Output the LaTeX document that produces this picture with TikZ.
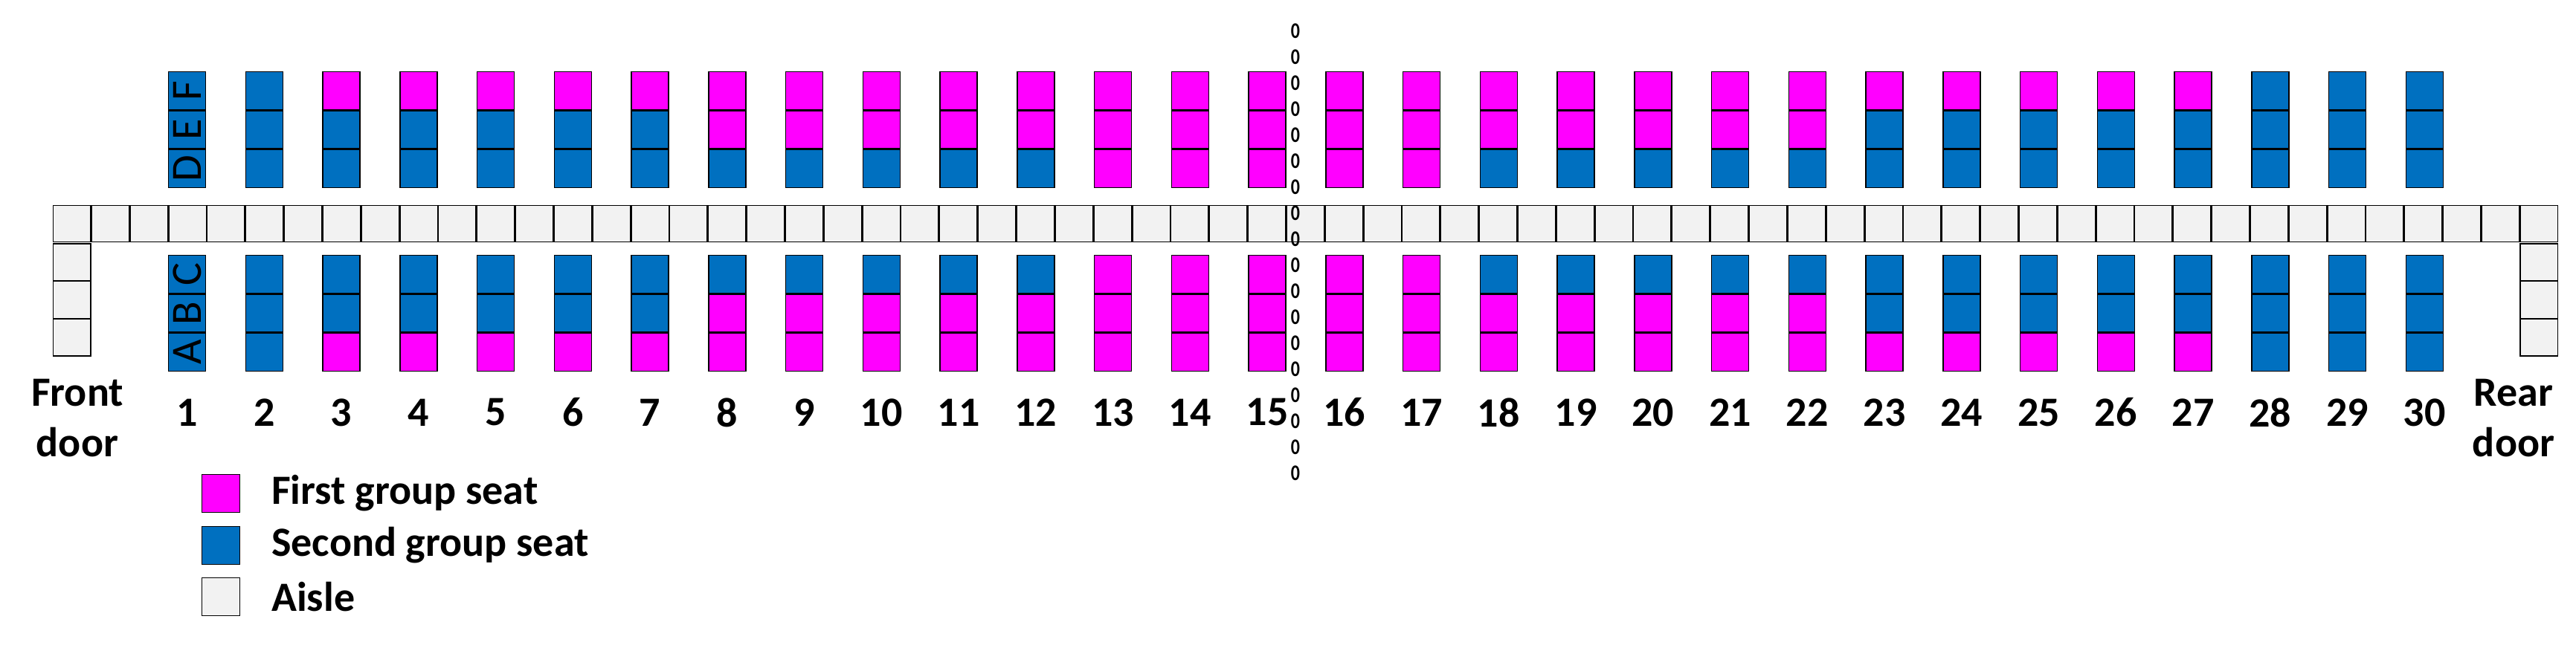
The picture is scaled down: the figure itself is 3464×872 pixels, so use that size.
\documentclass[tikz,border=0pt]{standalone}
\usepackage{fontspec}
\setmainfont{Carlito}
\definecolor{mag}{HTML}{FF00FF}
\definecolor{blu}{HTML}{0070C0}
\definecolor{ais}{HTML}{F2F2F2}
\begin{document}
\begin{tikzpicture}[x=1pt,y=-1pt,
  cell/.style={draw,line width=1.5pt,inner sep=0pt,minimum width=50pt,minimum height=51pt,font=\fontsize{58}{60}\selectfont},
  aisle/.style={cell,fill=ais,minimum width=50.5pt,minimum height=49pt},
  lbl/.style={font=\fontsize{56}{68}\selectfont\bfseries,inner sep=0pt},
  zero/.style={font=\fontsize{30}{30}\selectfont\bfseries,inner sep=0pt}]
\useasboundingbox (0,0) rectangle (3464,872);
% aisle
\foreach \i in {0,...,64}
  \node[aisle] (a\i) at ({70.6+25.9+51.84*\i},301) {};
% door cells
\foreach \k in {0,1,2}{
  \node[aisle,minimum height=50pt] (fd\k) at (96.5,{353+50.5*\k}) {};
  \node[aisle,minimum height=50pt] (rd\k) at (3414,{353+50.5*\k}) {};
}
% seats
\foreach \n/\f/\e/\d/\c/\b/\a in {
 1/blu/blu/blu/blu/blu/blu, 2/blu/blu/blu/blu/blu/blu,
 3/mag/blu/blu/blu/blu/mag, 4/mag/blu/blu/blu/blu/mag, 5/mag/blu/blu/blu/blu/mag,
 6/mag/blu/blu/blu/blu/mag, 7/mag/blu/blu/blu/blu/mag,
 8/mag/mag/blu/blu/mag/mag, 9/mag/mag/blu/blu/mag/mag, 10/mag/mag/blu/blu/mag/mag,
 11/mag/mag/blu/blu/mag/mag, 12/mag/mag/blu/blu/mag/mag,
 13/mag/mag/mag/mag/mag/mag, 14/mag/mag/mag/mag/mag/mag, 15/mag/mag/mag/mag/mag/mag,
 16/mag/mag/mag/mag/mag/mag, 17/mag/mag/mag/mag/mag/mag,
 18/mag/mag/blu/blu/mag/mag, 19/mag/mag/blu/blu/mag/mag, 20/mag/mag/blu/blu/mag/mag,
 21/mag/mag/blu/blu/mag/mag, 22/mag/mag/blu/blu/mag/mag,
 23/mag/blu/blu/blu/blu/mag, 24/mag/blu/blu/blu/blu/mag, 25/mag/blu/blu/blu/blu/mag,
 26/mag/blu/blu/blu/blu/mag, 27/mag/blu/blu/blu/blu/mag,
 28/blu/blu/blu/blu/blu/blu, 29/blu/blu/blu/blu/blu/blu, 30/blu/blu/blu/blu/blu/blu}{
  \pgfmathsetmacro{\cx}{251.5+103.75*(\n-1)}
  \node[cell,fill=\f] (s\n F) at (\cx,122) {};
  \node[cell,fill=\e] (s\n E) at (\cx,174.5) {};
  \node[cell,fill=\d] (s\n D) at (\cx,227) {};
  \node[cell,fill=\c] (s\n C) at (\cx,369) {};
  \node[cell,fill=\b] (s\n B) at (\cx,421.5) {};
  \node[cell,fill=\a] (s\n A) at (\cx,474) {};
  \node[lbl] (n\n) at (\cx,555) {\n};
}
% seat letters
\foreach \s in {F,E,D,C,B,A}
  \node[rotate=90,font=\fontsize{58}{60}\selectfont,inner sep=0pt] at (s1\s) {\s};
% doors
\node[lbl,align=center] (front) at (104,563) {Front\\door};
\node[lbl,align=center] (rear) at (3380,563) {Rear\\door};
% divider
\foreach \k in {0,...,17}
  \node[zero,xscale=0.8] (z\k) at (1742,{42+35*\k}) {0};
% legend
\node[cell,fill=mag,minimum width=51pt] (lg1) at (297,664) {};
\node[cell,fill=blu,minimum width=51pt] (lg2) at (297,734) {};
\node[cell,fill=ais,minimum width=51pt] (lg3) at (297,803) {};
\node[lbl,anchor=west] (lt1) at (365,664) {First group seat};
\node[lbl,anchor=west] (lt2) at (365,734) {Second group seat};
\node[lbl,anchor=west] (lt3) at (365,803) {Aisle};
\end{tikzpicture}
\end{document}
